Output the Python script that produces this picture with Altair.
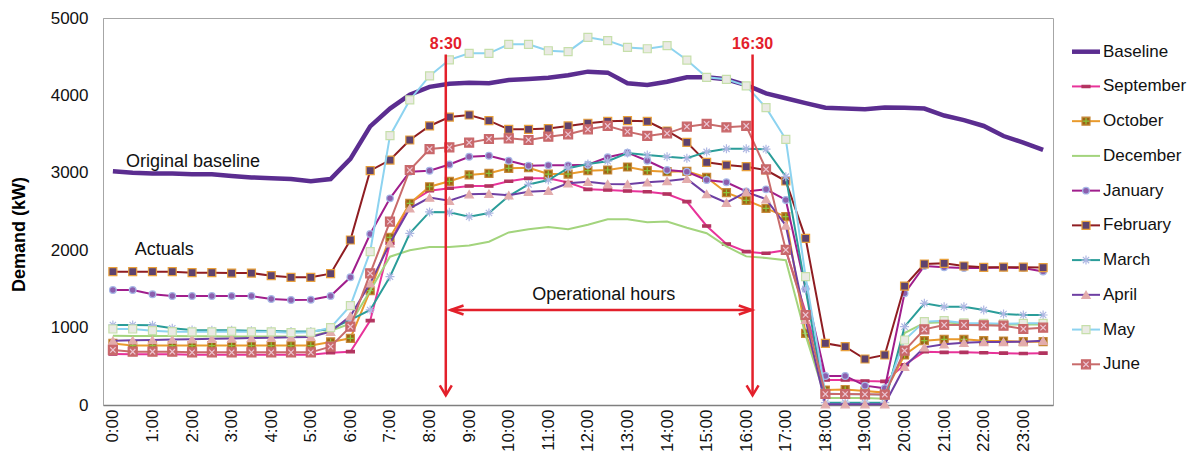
import altair as alt
import pandas as pd

# ---------------- data ----------------
SERIES = ["Baseline", "September", "October", "December", "January",
          "February", "March", "April", "May", "June"]
HOUR_TICKS = list(range(24))            # hourly tick labels 0:00 .. 23:00
STEPS = [i * 0.5 for i in range(48)]    # half-hour categories 0:00 .. 23:30

baseline = [3020, 3000, 2990, 2990, 2980, 2980, 2960, 2940, 2930, 2920, 2890, 2920,
            3180, 3600, 3830, 4010, 4110, 4150, 4165, 4156, 4199, 4212, 4229, 4260,
            4307, 4294, 4156, 4134, 4177, 4233, 4233, 4208, 4134, 4027, 3963, 3900,
            3841, 3830, 3820, 3845, 3840, 3830, 3740, 3680, 3605, 3475, 3390, 3295]
september = [659, 655, 655, 655, 650, 650, 650, 650, 648, 648, 650, 676,
             689, 1090, 2089, 2614, 2769, 2800, 2829, 2829, 2890, 2928, 2928, 2875,
             2786, 2778, 2765, 2756, 2726, 2627, 2313, 2080, 1981, 1960, 2000, 1200,
             323, 323, 310, 305, 520, 689, 680, 680, 675, 670, 665, 670]
october = [795, 768, 768, 768, 768, 768, 768, 768, 768, 768, 768, 815,
           862, 1477, 2166, 2605, 2820, 2890, 2972, 2993, 3058, 3065, 2984, 2984,
           3027, 3036, 3075, 3027, 3014, 3019, 2941, 2743, 2645, 2541, 2433, 926,
           194, 200, 180, 160, 646, 831, 849, 849, 831, 827, 818, 818]
december = [896, 893, 890, 890, 888, 888, 886, 886, 886, 886, 886, 960,
            1050, 1480, 1916, 2000, 2040, 2040, 2060, 2110, 2230, 2270, 2300, 2270,
            2330, 2400, 2400, 2360, 2370, 2290, 2220, 2050, 1920, 1900, 1870, 900,
            90, 90, 90, 80, 930, 1060, 1070, 1050, 1040, 1040, 1040, 1040]
january = [1486, 1486, 1430, 1408, 1408, 1408, 1408, 1408, 1369, 1357, 1360, 1408,
           1650, 2209, 2670, 3014, 3027, 3107, 3208, 3221, 3156, 3092, 3096, 3096,
           3105, 3200, 3260, 3156, 3036, 3014, 2907, 2877, 2760, 2786, 2649, 1500,
           375, 375, 250, 216, 1443, 1796, 1779, 1770, 1770, 1775, 1770, 1725]
february = [1722, 1722, 1722, 1722, 1709, 1709, 1705, 1705, 1671, 1650, 1650, 1697,
            2132, 3027, 3165, 3424, 3605, 3720, 3747, 3674, 3562, 3562, 3572, 3605,
            3640, 3665, 3674, 3665, 3540, 3394, 3135, 3100, 3079, 3036, 2894, 2153,
            797, 754, 594, 646, 1537, 1822, 1830, 1796, 1779, 1781, 1781, 1775]
march = [1034, 1034, 1030, 991, 969, 965, 965, 960, 955, 950, 950, 980,
         1100, 1228, 1658, 2218, 2495, 2489, 2433, 2480, 2700, 2850, 2907, 3060,
         3114, 3150, 3255, 3230, 3208, 3187, 3270, 3310, 3310, 3305, 2950, 1500,
         30, 30, 30, 30, 1012, 1314, 1270, 1270, 1227, 1176, 1163, 1163]
april = [831, 835, 840, 845, 850, 855, 860, 865, 870, 875, 880, 947,
         1150, 1572, 2089, 2541, 2680, 2640, 2724, 2730, 2709, 2756, 2769, 2864,
         2885, 2855, 2853, 2877, 2894, 2922, 2726, 2614, 2750, 2660, 2320, 1100,
         10, 10, 10, 10, 495, 745, 784, 805, 814, 814, 818, 831]
may = [982, 982, 960, 947, 945, 945, 950, 945, 945, 935, 940, 999,
       1283, 1981, 3480, 3941, 4251, 4460, 4543, 4543, 4660, 4660, 4577, 4565,
       4750, 4707, 4620, 4603, 4642, 4457, 4234, 4208, 4124, 3841, 3433, 1658,
       150, 140, 140, 130, 840, 1077, 1090, 1060, 1055, 1050, 1055, 1055]
june = [711, 689, 689, 689, 680, 680, 680, 680, 680, 680, 680, 754,
        1012, 1701, 2369, 3036, 3307, 3329, 3390, 3437, 3445, 3424, 3467, 3497,
        3562, 3605, 3532, 3476, 3510, 3596, 3631, 3588, 3605, 3045, 2003, 1163,
        142, 142, 138, 135, 702, 978, 1034, 1034, 1030, 1025, 982, 999]

VALUES = [baseline, september, october, december, january,
          february, march, april, may, june]

# annotation texts (data coordinates: hour, demand)
NOTE_TEXT = ["Original baseline", "Actuals", "Operational hours"]
NOTE_HOUR = [0.33, 0.55, 12.4]
NOTE_DEMAND = [3140, 2003, 1421]
NOTE_ALIGN = ["left", "left", "center"]

MARK_TEXT = ["8:30", "16:30"]
MARK_HOUR = [8.41, 16.16]
MARK_TOP = [4660, 4660]
ARROW_TOP = [4530, 4530]
ARROW_TIP = [125, 125]
SPAN_HOUR = [8.53, 16.14]
SPAN_DEMAND = [1227]

# ---------------- styles ----------------
RED = "#E3202B"
FONT = "Liberation Sans"
ASTER = "M-1,0H1M0,-1V1M-0.7,-0.7L0.7,0.7M-0.7,0.7L0.7,-0.7"
PLUS = "M-0.8,0H0.8M0,-0.8V0.8"
XMARK = "M-0.6,-0.6L0.6,0.6M-0.6,0.6L0.6,-0.6"
DASH = "M-1,-0.3H1V0.3H-1Z"

STYLE = {
    "Baseline":  dict(line="#5B2D90", width=4.5, marks=[]),
    "September": dict(line="#E8339A", width=2, marks=[
        dict(shape=DASH, fill="#B2345F", stroke="#B2345F", size=64, filled=True)]),
    "October":   dict(line="#E99A2C", width=2, marks=[
        dict(shape="square", fill="#9C6414", stroke="#C88A3A", size=64, filled=True),
        dict(shape=PLUS, stroke="#8CC63E", size=64, filled=False)]),
    "December":  dict(line="#A3D47D", width=2, marks=[]),
    "January":   dict(line="#A01E8C", width=2, marks=[
        dict(shape="circle", fill="#8B5FAE", stroke="#A7B8E6", size=45, filled=True)]),
    "February":  dict(line="#8F1D22", width=2, marks=[
        dict(shape="square", fill="#5E426E", stroke="#E8A03C", size=64, filled=True)]),
    "March":     dict(line="#2A9D99", width=2, marks=[
        dict(shape=ASTER, stroke="#AEB7E3", size=81, filled=False)]),
    "April":     dict(line="#6E3FA3", width=2, marks=[
        dict(shape="triangle-up", fill="#E3ACAC", stroke="#E3ACAC", size=70, filled=True)]),
    "May":       dict(line="#8DD3F0", width=2, marks=[
        dict(shape="square", fill="#EAEAE4", stroke="#C6DFAA", size=64, filled=True)]),
    "June":      dict(line="#C86B6B", width=2, marks=[
        dict(shape="square", fill="#C9686B", stroke="#C9686B", size=81, filled=True),
        dict(shape=XMARK, stroke="#EBC5D3", size=81, filled=False)]),
}

# ---------------- build ----------------
rows = []
for name, vals in zip(SERIES, VALUES):
    for h, v in zip(STEPS, vals):
        rows.append({"series": name, "hour": h, "demand": v})
df = pd.DataFrame(rows)

X = alt.X("hour:Q",
          scale=alt.Scale(domain=[-0.25, 23.75], nice=False, zero=False),
          axis=alt.Axis(values=HOUR_TICKS, labelExpr="datum.value + ':00'",
                        labelAngle=-90, ticks=False, grid=False, title=None,
                        labelFontSize=17, labelPadding=4, labelColor="#111111",
                        labelFont=FONT, domainColor="#7F7F7F", domainWidth=1.5))
Y = alt.Y("demand:Q",
          scale=alt.Scale(domain=[0, 5000], nice=False),
          axis=alt.Axis(values=list(range(0, 5001, 500)), format="d",
                        title="Demand (kW)",
                        grid=False, ticks=False, labelPadding=15, labelFontSize=17,
                        labelColor="#111111", labelFont=FONT,
                        titleFont=FONT, titleFontSize=18, titleFontWeight="bold",
                        titleColor="#000000", titleX=-84, titleY=216,
                        titleAngle=-90, titleBaseline="middle", titleAlign="center",
                        domainColor="#A6A6A6"))

main_layers = []
for name in SERIES:
    st = STYLE[name]
    sub = alt.Chart(df).transform_filter(alt.datum.series == name)
    main_layers.append(sub.mark_line(color=st["line"], strokeWidth=st["width"])
                       .encode(x=X, y=Y))
    for mk in st["marks"]:
        kw = dict(shape=mk["shape"], size=mk["size"], filled=mk["filled"],
                  stroke=mk["stroke"], strokeWidth=1.2, opacity=1)
        if mk["filled"]:
            kw["fill"] = mk["fill"]
        main_layers.append(sub.mark_point(**kw).encode(x=X, y=Y))

notes = pd.DataFrame({"text": NOTE_TEXT, "hour": NOTE_HOUR,
                      "demand": NOTE_DEMAND, "align": NOTE_ALIGN})
for al in ["left", "center"]:
    main_layers.append(
        alt.Chart(notes).transform_filter(alt.datum.align == al)
        .mark_text(align=al, baseline="middle", font=FONT, fontSize=18,
                   color="#111111")
        .encode(x=X, y=Y, text="text:N"))

marks = pd.DataFrame({"text": MARK_TEXT, "hour": MARK_HOUR, "demand": MARK_TOP,
                      "top": ARROW_TOP, "tip": ARROW_TIP})
main_layers.append(
    alt.Chart(marks).mark_text(align="center", baseline="middle", font=FONT,
                               fontSize=16, fontWeight="bold", color=RED)
    .encode(x=X, y=Y, text="text:N"))
main_layers.append(
    alt.Chart(marks).mark_rule(color=RED, strokeWidth=2.5)
    .encode(x=X, y=alt.Y("top:Q", scale=alt.Scale(domain=[0, 5000], nice=False)),
            y2="tip:Q"))
main_layers.append(
    alt.Chart(marks).mark_point(shape="M-1.2,-2L0,0L1.2,-2", size=100, filled=False,
                                stroke=RED, strokeWidth=2.5, opacity=1)
    .encode(x=X, y=alt.Y("tip:Q", scale=alt.Scale(domain=[0, 5000], nice=False))))

span = pd.DataFrame({"hour": [SPAN_HOUR[0]], "hour2": [SPAN_HOUR[1]],
                     "demand": SPAN_DEMAND})
main_layers.append(
    alt.Chart(span).mark_rule(color=RED, strokeWidth=2.5)
    .encode(x=X, x2="hour2:Q", y=Y))
heads = pd.DataFrame({"hour": SPAN_HOUR, "demand": SPAN_DEMAND * 2,
                      "dir": ["l", "r"]})
for d, path in [("l", "M2.6,-0.9L0,0L2.6,0.9"), ("r", "M-2.6,-0.9L0,0L-2.6,0.9")]:
    main_layers.append(
        alt.Chart(heads).transform_filter(alt.datum.dir == d)
        .mark_point(shape=path, size=100, filled=False, stroke=RED,
                    strokeWidth=2.5, opacity=1)
        .encode(x=X, y=Y))

main = alt.layer(*main_layers)

# ---------------- legend ----------------
LEG_Y = alt.Y("series:N", axis=None,
              scale=alt.Scale(type="point", domain=SERIES, range=[33.7, 346.3],
                              padding=0))
legend_layers = []
for name in SERIES:
    st = STYLE[name]
    one = alt.Chart(pd.DataFrame({"series": [name]}))
    legend_layers.append(one.mark_rule(color=st["line"], strokeWidth=st["width"])
                         .encode(x=alt.value(969), x2=alt.value(997), y=LEG_Y))
    for mk in st["marks"]:
        kw = dict(shape=mk["shape"], size=mk["size"], filled=mk["filled"],
                  stroke=mk["stroke"], strokeWidth=1.2, opacity=1)
        if mk["filled"]:
            kw["fill"] = mk["fill"]
        legend_layers.append(one.mark_point(**kw).encode(x=alt.value(983), y=LEG_Y))
legend_layers.append(
    alt.Chart(pd.DataFrame({"series": SERIES}))
    .mark_text(align="left", baseline="middle", font=FONT, fontSize=17,
               color="#111111")
    .encode(x=alt.value(1000), y=LEG_Y, text="series:N"))
legend = alt.layer(*legend_layers)

chart = (alt.layer(main, legend)
         .resolve_scale(y="independent")
         .properties(width=950, height=387,
                     autosize=alt.AutoSizeParams(type="none"),
                     padding={"left": 95, "top": 10, "right": 135, "bottom": 46},
                     background="white")
         .configure_view(stroke="#A6A6A6", strokeWidth=1))

chart.save("out.html", embed_options={"renderer": "svg", "actions": False})
